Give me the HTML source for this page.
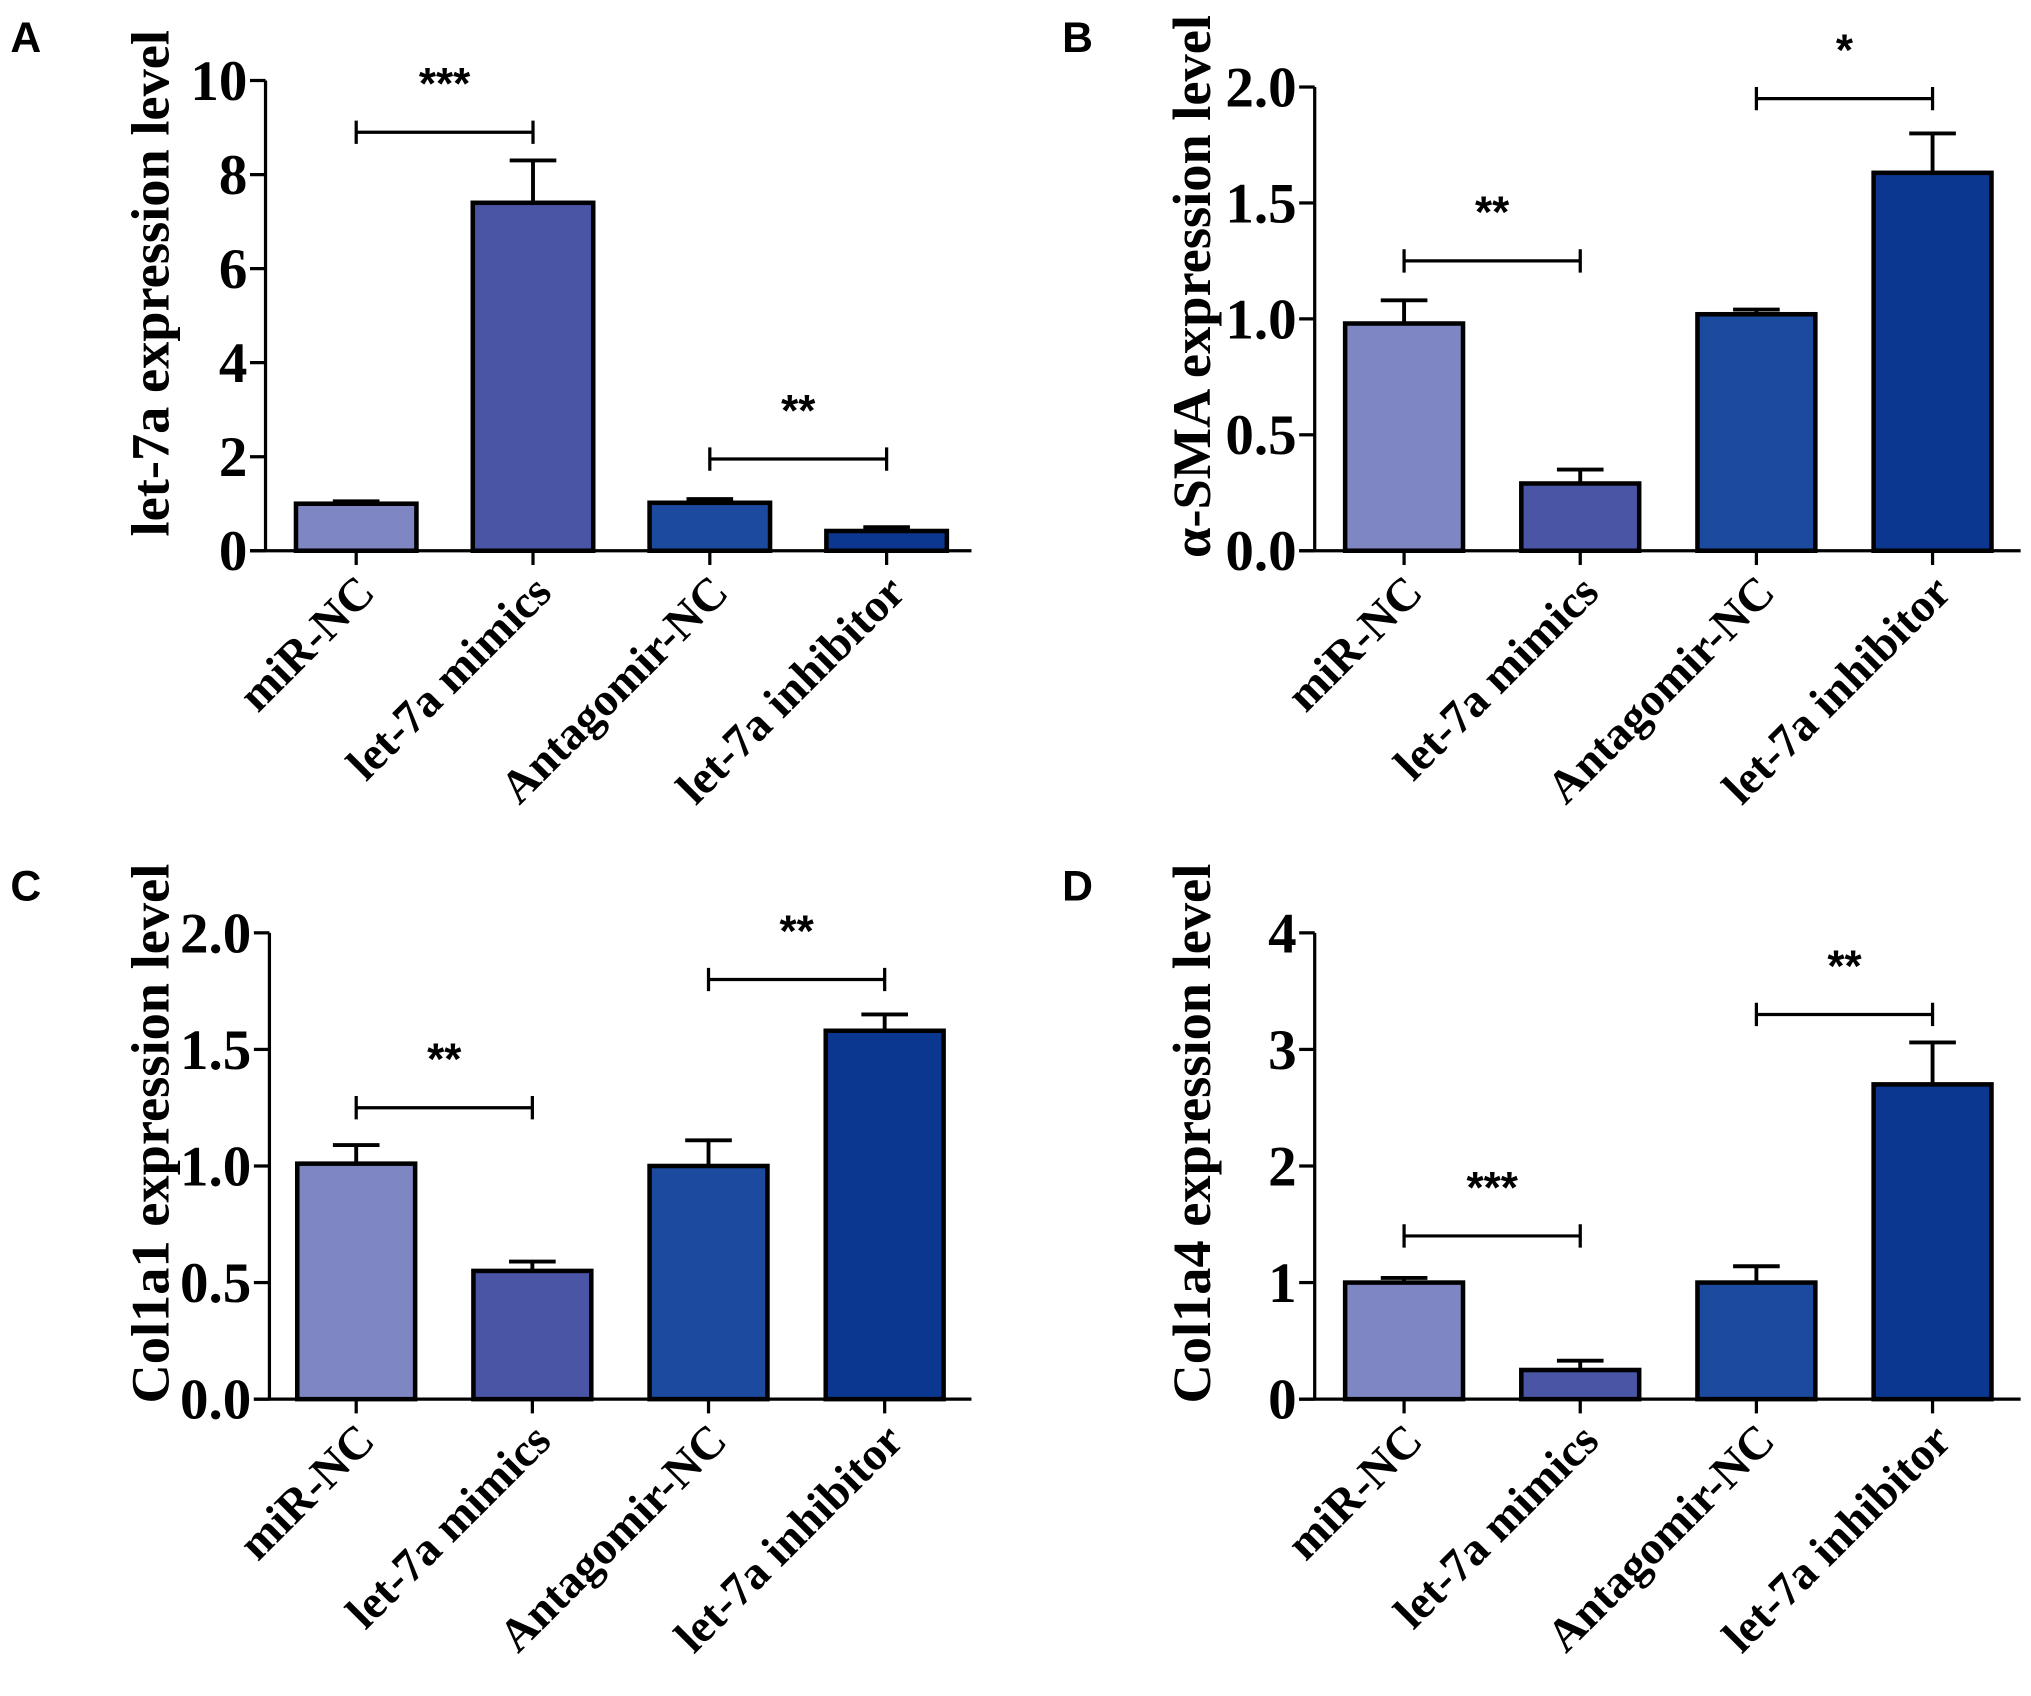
<!DOCTYPE html>
<html><head><meta charset="utf-8"><style>
html,body{margin:0;padding:0;background:#fff}
svg{display:block}
text{font-family:"Liberation Serif",serif;font-weight:bold;fill:#000}
.pl{font-family:"Liberation Sans",sans-serif}
</style></head><body>
<svg id="fig" width="2031" height="1696" viewBox="0 0 1568 1309" xmlns="http://www.w3.org/2000/svg"></svg>
<script>
const categories = ["miR-NC","let-7a mimics","Antagomir-NC","let-7a inhibitor"];
const colors = ["#7f86c4","#4a55a5","#1c4a9e","#0b3790"];
const valuesA = [1.0, 7.4, 1.02, 0.42];
const errorsA = [1.05, 8.3, 1.1, 0.5];
const ticksA = [0,2,4,6,8,10];
const valuesB = [0.98, 0.29, 1.02, 1.63];
const errorsB = [1.08, 0.35, 1.04, 1.80];
const ticksB = [0,0.5,1.0,1.5,2.0];
const valuesC = [1.01, 0.55, 1.00, 1.58];
const errorsC = [1.09, 0.59, 1.11, 1.65];
const ticksC = [0,0.5,1.0,1.5,2.0];
const valuesD = [1.0, 0.25, 1.0, 2.7];
const errorsD = [1.04, 0.33, 1.14, 3.06];
const ticksD = [0,1,2,3,4];
const sigA = [{a:0,b:1,y:8.9,t:"***"},{a:2,b:3,y:1.95,t:"**"}];
const sigB = [{a:0,b:1,y:1.25,t:"**"},{a:2,b:3,y:1.95,t:"*"}];
const sigC = [{a:0,b:1,y:1.25,t:"**"},{a:2,b:3,y:1.80,t:"**"}];
const sigD = [{a:0,b:1,y:1.4,t:"***"},{a:2,b:3,y:3.3,t:"**"}];

const NS="http://www.w3.org/2000/svg";
const svg=document.getElementById('fig');
function mk(tag,attrs,parent){const e=document.createElementNS(NS,tag);for(const k in attrs)e.setAttribute(k,attrs[k]);(parent||svg).appendChild(e);return e;}

function panel(o){
  const g=mk('g',{});
  
  
  const ymax=o.ticks[o.ticks.length-1];
  const yS=v=>o.y0-(v/ymax)*(o.y0-o.yTop);
  const bw=o.bw, step=o.step;
  const xC=i=>o.x0+o.first+i*step;
  const pl=mk('text',{x:o.lx,y:o.ly,'font-size':33,class:'pl'},g);pl.textContent=o.letter;
  
  
  const yt=mk('text',{transform:`translate(${o.tx},${(o.y0+o.yTop)/2-25}) rotate(-90)`,'text-anchor':'middle','font-size':42},g);
  yt.textContent=o.title;
  
  
  o.vals.forEach((v,i)=>{
    const cx=xC(i);
    const e=mk('line',{x1:cx,x2:cx,y1:yS(v),y2:yS(o.errs[i]),stroke:'#000','stroke-width':3},g);
    
    
    const c=mk('line',{x1:cx-18,x2:cx+18,y1:yS(o.errs[i]),y2:yS(o.errs[i]),stroke:'#000','stroke-width':3},g);
    
    
    const r=mk('rect',{x:cx-bw/2,y:yS(v),width:bw,height:o.y0-yS(v),fill:colors[i],stroke:'#000','stroke-width':3.5},g);
    
    
    const tk=mk('line',{x1:cx,x2:cx,y1:o.y0,y2:o.y0+11,stroke:'#000','stroke-width':2.5},g);
    
    
    const lb=mk('text',{transform:`translate(${cx+16},${o.y0+34}) rotate(-45)`,'text-anchor':'end','font-size':36},g);
    lb.textContent=categories[i];
    
    
  });
  const ya=mk('line',{x1:o.x0,x2:o.x0,y1:o.yTop,y2:o.y0+1,stroke:'#000','stroke-width':2.5},g);
  
  
  const xa=mk('line',{x1:o.x0-12,x2:o.x0+o.xw,y1:o.y0,y2:o.y0,stroke:'#000','stroke-width':2.5},g);
  
  
  o.ticks.forEach(t=>{
    const tl=mk('line',{x1:o.x0-12,x2:o.x0,y1:yS(t),y2:yS(t),stroke:'#000','stroke-width':2.5},g);
    
    
    const tx=mk('text',{x:o.x0-14,y:yS(t)+15,'text-anchor':'end','font-size':44},g);
    tx.textContent=o.fmt(t);
    
    
  });
  o.sig.forEach(s=>{
    const xa1=xC(s.a), xb=xC(s.b), y=yS(s.y);
    const br=mk('path',{d:`M${xa1},${y-9}V${y+9}M${xa1},${y}H${xb}M${xb},${y-9}V${y+9}`,stroke:'#000','stroke-width':2.5,fill:'none'},g);
    
    
    const st=mk('text',{x:(xa1+xb)/2,y:y-26,'text-anchor':'middle','font-size':34,class:'pl'},g);
    st.textContent=s.t;
    
    
  });
}
const f0=t=>String(t), f1=t=>t.toFixed(1);
panel({letter:'A',lx:8,ly:40,tx:130,title:'let-7a expression level',x0:205,y0:425,yTop:62,bw:93,step:136.5,first:70,xw:545,vals:valuesA,errs:errorsA,ticks:ticksA,fmt:f0,sig:sigA});
panel({letter:'B',lx:820,ly:40,tx:934,title:'α-SMA expression level',x0:1015,y0:425,yTop:67,bw:91,step:136,first:69,xw:545,vals:valuesB,errs:errorsB,ticks:ticksB,fmt:f1,sig:sigB});
panel({letter:'C',lx:8,ly:695,tx:130,title:'Col1a1 expression level',x0:208,y0:1080,yTop:720,bw:91,step:136,first:67,xw:542,vals:valuesC,errs:errorsC,ticks:ticksC,fmt:f1,sig:sigC});
panel({letter:'D',lx:820,ly:695,tx:934,title:'Col1a4 expression level',x0:1015,y0:1080,yTop:720,bw:91,step:136,first:69,xw:545,vals:valuesD,errs:errorsD,ticks:ticksD,fmt:f0,sig:sigD});
</script>
</body></html>
